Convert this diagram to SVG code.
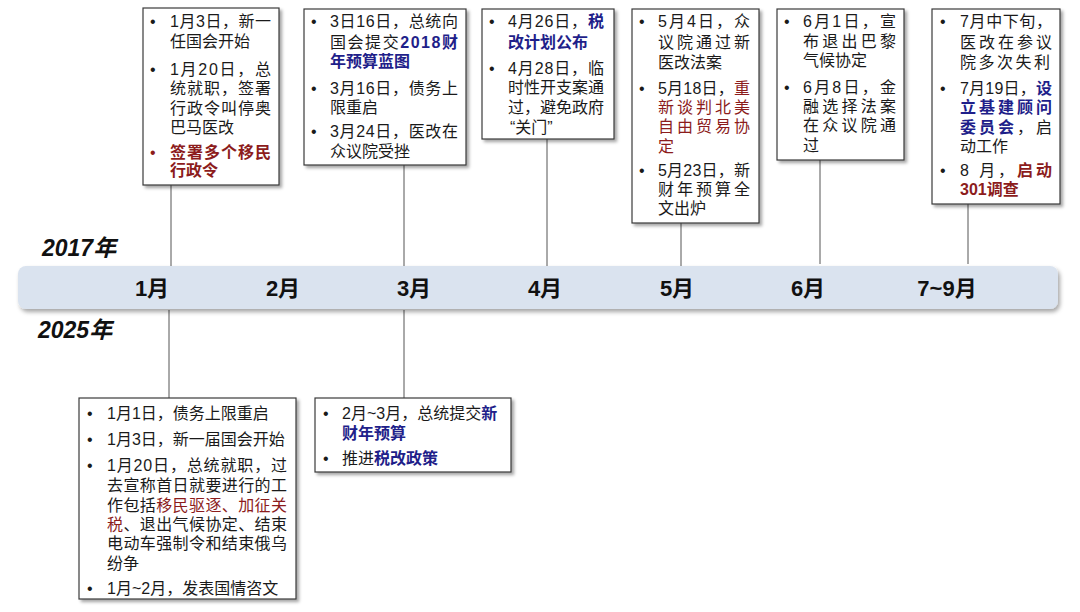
<svg xmlns="http://www.w3.org/2000/svg" width="1080" height="612" viewBox="0 0 1080 612">
<defs>
<filter id="sh" x="-10%" y="-10%" width="130%" height="130%">
<feDropShadow dx="2.5" dy="2.5" stdDeviation="1.5" flood-color="#000" flood-opacity="0.35"/>
</filter>
<filter id="sh2" x="-5%" y="-30%" width="110%" height="160%">
<feDropShadow dx="2" dy="3" stdDeviation="2" flood-color="#000" flood-opacity="0.35"/>
</filter>
</defs>
<style>
text{font-family:"Liberation Sans","Noto Sans CJK SC",sans-serif;fill:#1a1a1a}
.t{font-size:16px}
.b{font-size:16px}
.box{fill:#fff;stroke:#3a3a3a;stroke-width:1.2;filter:url(#sh)}
.blue{fill:#1f1f8a;font-weight:bold}
.red{fill:#8c1c1c;font-weight:bold}
.redn{fill:#8c1c1c}
.m{font-size:22px;font-weight:bold;text-anchor:middle;fill:#111}
.yr{font-size:23px;font-weight:bold;font-style:italic;fill:#111}
.c{stroke:#555;stroke-width:1;fill:none}
</style>
<rect x="0" y="0" width="1080" height="612" fill="#fff"/>

<g id="connectors">
<line class="c" x1="171" y1="185" x2="171" y2="266"/>
<line class="c" x1="404" y1="165" x2="404" y2="266"/>
<line class="c" x1="547" y1="139" x2="547" y2="266"/>
<line class="c" x1="681" y1="223" x2="681" y2="266"/>
<line class="c" x1="820" y1="160" x2="820" y2="264"/>
<line class="c" x1="968" y1="204" x2="968" y2="264"/>
<line class="c" x1="169" y1="310" x2="169" y2="398"/>
<line class="c" x1="404" y1="310" x2="404" y2="398"/>
</g>

<g id="timeline">
<rect x="18" y="266" width="1040" height="43" rx="8" fill="#dae3ef" filter="url(#sh2)"/>
<text class="m" x="152" y="296">1月</text>
<text class="m" x="283" y="296">2月</text>
<text class="m" x="414" y="296">3月</text>
<text class="m" x="545" y="296">4月</text>
<text class="m" x="677" y="296">5月</text>
<text class="m" x="808" y="296">6月</text>
<text class="m" x="947" y="296">7~9月</text>
</g>

<g id="year2017"><text class="yr" x="42" y="256">2017年</text></g>
<g id="year2025"><text class="yr" x="38" y="338">2025年</text></g>

<g id="box-2017-01">
<rect class="box" x="143" y="8" width="136" height="177"/>
<text class="b" x="150" y="27">•</text>
<text class="t" x="170" y="27" textLength="101" lengthAdjust="spacing">1月3日，新一</text>
<text class="t" x="170" y="47">任国会开始</text>
<text class="b" x="150" y="75">•</text>
<text class="t" x="170" y="75" textLength="101" lengthAdjust="spacing">1月20日，总</text>
<text class="t" x="170" y="94" textLength="101" lengthAdjust="spacing">统就职，签署</text>
<text class="t" x="170" y="114" textLength="101" lengthAdjust="spacing">行政令叫停奥</text>
<text class="t" x="170" y="133">巴马医改</text>
<text class="b redn" x="150" y="158">•</text>
<text class="t red" x="170" y="158" textLength="101" lengthAdjust="spacing">签署多个移民</text>
<text class="t red" x="170" y="176">行政令</text>
</g>

<g id="box-2017-03">
<rect class="box" x="304" y="9" width="162" height="156"/>
<text class="b" x="311" y="27">•</text>
<text class="t" x="330" y="27" textLength="128" lengthAdjust="spacing">3日16日，总统向</text>
<text class="t" x="330" y="48" textLength="128" lengthAdjust="spacing">国会提交<tspan class="blue">2018财</tspan></text>
<text class="t blue" x="330" y="67">年预算蓝图</text>
<text class="b" x="311" y="94">•</text>
<text class="t" x="330" y="94" textLength="128" lengthAdjust="spacing">3月16日，债务上</text>
<text class="t" x="330" y="113">限重启</text>
<text class="b" x="311" y="137">•</text>
<text class="t" x="330" y="137" textLength="128" lengthAdjust="spacing">3月24日，医改在</text>
<text class="t" x="330" y="157">众议院受挫</text>
</g>

<g id="box-2017-04">
<rect class="box" x="482" y="9" width="132" height="130"/>
<text class="b" x="489" y="27">•</text>
<text class="t" x="508" y="27" textLength="96" lengthAdjust="spacing">4月26日，<tspan class="blue">税</tspan></text>
<text class="t blue" x="508" y="48">改计划公布</text>
<text class="b" x="489" y="74">•</text>
<text class="t" x="508" y="74" textLength="96" lengthAdjust="spacing">4月28日，临</text>
<text class="t" x="508" y="93" textLength="96" lengthAdjust="spacing">时性开支案通</text>
<text class="t" x="508" y="113" textLength="96" lengthAdjust="spacing">过，避免政府</text>
<text class="t" x="510" y="133">“关门”</text>
</g>

<g id="box-2017-05">
<rect class="box" x="632" y="9" width="127" height="214"/>
<text class="b" x="639" y="27">•</text>
<text class="t" x="658" y="27" textLength="92" lengthAdjust="spacing">5月4日，众</text>
<text class="t" x="658" y="48" textLength="92" lengthAdjust="spacing">议院通过新</text>
<text class="t" x="658" y="68">医改法案</text>
<text class="b" x="639" y="94">•</text>
<text class="t" x="658" y="94" textLength="92" lengthAdjust="spacing">5月18日，<tspan class="redn">重</tspan></text>
<text class="t redn" x="658" y="113" textLength="92" lengthAdjust="spacing">新谈判北美</text>
<text class="t redn" x="658" y="132" textLength="92" lengthAdjust="spacing">自由贸易协</text>
<text class="t redn" x="658" y="152">定</text>
<text class="b" x="639" y="176">•</text>
<text class="t" x="658" y="176" textLength="92" lengthAdjust="spacing">5月23日，新</text>
<text class="t" x="658" y="195" textLength="92" lengthAdjust="spacing">财年预算全</text>
<text class="t" x="658" y="214">文出炉</text>
</g>

<g id="box-2017-06">
<rect class="box" x="777" y="9" width="127" height="151"/>
<text class="b" x="784" y="27">•</text>
<text class="t" x="803" y="27" textLength="93" lengthAdjust="spacing">6月1日，宣</text>
<text class="t" x="803" y="47" textLength="93" lengthAdjust="spacing">布退出巴黎</text>
<text class="t" x="803" y="66">气候协定</text>
<text class="b" x="784" y="93">•</text>
<text class="t" x="803" y="93" textLength="93" lengthAdjust="spacing">6月8日，金</text>
<text class="t" x="803" y="112" textLength="93" lengthAdjust="spacing">融选择法案</text>
<text class="t" x="803" y="131" textLength="93" lengthAdjust="spacing">在众议院通</text>
<text class="t" x="803" y="151">过</text>
</g>

<g id="box-2017-07">
<rect class="box" x="932" y="9" width="128" height="195"/>
<text class="b" x="940" y="27">•</text>
<text class="t" x="960" y="27" textLength="92" lengthAdjust="spacing">7月中下旬，</text>
<text class="t" x="960" y="48" textLength="92" lengthAdjust="spacing">医改在参议</text>
<text class="t" x="960" y="68" textLength="90" lengthAdjust="spacing">院多次失利</text>
<text class="b" x="940" y="94">•</text>
<text class="t" x="960" y="94" textLength="92" lengthAdjust="spacing">7月19日，<tspan class="blue">设</tspan></text>
<text class="t blue" x="960" y="113" textLength="92" lengthAdjust="spacing">立基建顾问</text>
<text class="t" x="960" y="133" textLength="92" lengthAdjust="spacing"><tspan class="blue">委员会</tspan>，启</text>
<text class="t" x="960" y="152">动工作</text>
<text class="b" x="940" y="176">•</text>
<text class="t" x="960" y="176" textLength="92" lengthAdjust="spacing">8 月，<tspan class="red">启动</tspan></text>
<text class="t red" x="960" y="195">301调查</text>
</g>

<g id="box-2025-01">
<rect class="box" x="79" y="398" width="217" height="201"/>
<text class="b" x="87" y="419">•</text>
<text class="t" x="107" y="419">1月1日，债务上限重启</text>
<text class="b" x="87" y="445">•</text>
<text class="t" x="107" y="445">1月3日，新一届国会开始</text>
<text class="b" x="87" y="471">•</text>
<text class="t" x="107" y="471" textLength="180" lengthAdjust="spacing">1月20日，总统就职，过</text>
<text class="t" x="107" y="491" textLength="180" lengthAdjust="spacing">去宣称首日就要进行的工</text>
<text class="t" x="107" y="511" textLength="180" lengthAdjust="spacing">作包括<tspan class="redn">移民驱逐、加征关</tspan></text>
<text class="t" x="107" y="530" textLength="180" lengthAdjust="spacing"><tspan class="redn">税</tspan>、退出气候协定、结束</text>
<text class="t" x="107" y="549" textLength="180" lengthAdjust="spacing">电动车强制令和结束俄乌</text>
<text class="t" x="107" y="569">纷争</text>
<text class="b" x="87" y="594">•</text>
<text class="t" x="107" y="594">1月~2月，发表国情咨文</text>
</g>

<g id="box-2025-03">
<rect class="box" x="315" y="398" width="196" height="74"/>
<text class="b" x="323" y="419">•</text>
<text class="t" x="342" y="419">2月~3月，总统提交<tspan class="blue">新</tspan></text>
<text class="t blue" x="342" y="439">财年预算</text>
<text class="b" x="323" y="464">•</text>
<text class="t" x="342" y="464">推进<tspan class="blue">税改政策</tspan></text>
</g>
</svg>
